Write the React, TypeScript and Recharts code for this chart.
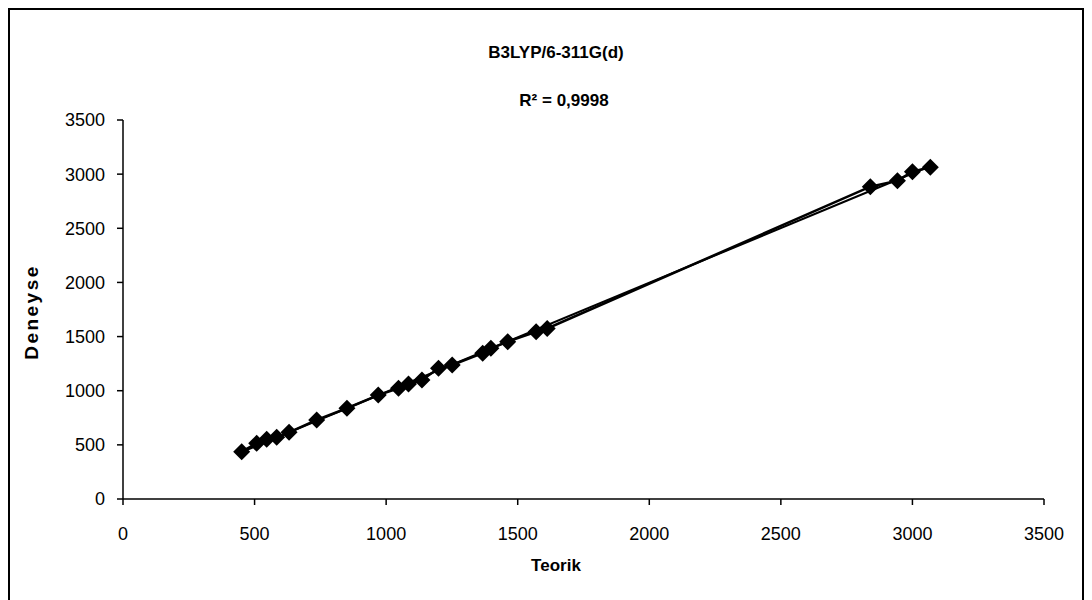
import { ScatterChart, Scatter, XAxis, YAxis } from "recharts"

const teorik = [451, 508, 546, 584, 631, 736, 851, 970, 1047, 1085, 1136, 1199, 1251, 1367, 1398, 1462, 1570, 1612, 2840, 2943, 3000, 3068]
const deneyse = [437, 514, 551, 570, 616, 730, 838, 960, 1022, 1062, 1099, 1207, 1238, 1346, 1392, 1453, 1545, 1575, 2884, 2940, 3023, 3063]
const axisTicks = [0, 500, 1000, 1500, 2000, 2500, 3000, 3500]
const title = "B3LYP/6-311G(d)"
const r2Label = "R² = 0,9998"

const points = teorik.map((x, i) => ({ x, y: deneyse[i] }))

// linear trendline (least squares), drawn from min to max x like Excel does
const n = points.length
const mx = teorik.reduce((a, b) => a + b, 0) / n
const my = deneyse.reduce((a, b) => a + b, 0) / n
let sxy = 0
let sxx = 0
points.forEach((p) => {
  sxy += (p.x - mx) * (p.y - my)
  sxx += (p.x - mx) * (p.x - mx)
})
const slope = sxy / sxx
const intercept = my - slope * mx
const xMin = Math.min(...teorik)
const xMax = Math.max(...teorik)
const trend = [
  { x: xMin, y: slope * xMin + intercept },
  { x: xMax, y: slope * xMax + intercept },
]

const font = "Arial, 'Liberation Sans', sans-serif"

const Diamond = (props: any) => {
  const { cx, cy } = props
  const s = 8.5
  return <polygon points={`${cx},${cy - s} ${cx + s},${cy} ${cx},${cy + s} ${cx - s},${cy}`} fill="#000" />
}

export default function App() {
  return (
    <div style={{ position: "relative", width: 1076, height: 600, border: "2px solid #000", boxSizing: "border-box", background: "#fff", fontFamily: font }}>
      <div style={{ position: "absolute", left: -2, top: -2 }}>
        <ScatterChart width={1076} height={600} margin={{ top: 112, right: 40, bottom: 79, left: 0 }}>
          <XAxis
            type="number"
            dataKey="x"
            domain={[0, 3500]}
            ticks={axisTicks}
            height={30}
            stroke="#000"
            strokeWidth={1.5}
            tickSize={6}
            tickMargin={22}
            tick={{ fill: "#000", fontSize: 18, fontFamily: font }}
          />
          <YAxis
            type="number"
            dataKey="y"
            domain={[0, 3500]}
            ticks={axisTicks}
            width={115}
            stroke="#000"
            strokeWidth={1.5}
            tickSize={6}
            tickMargin={12}
            tick={{ fill: "#000", fontSize: 18, fontFamily: font }}
          />
          <Scatter data={trend} line={{ stroke: "#000", strokeWidth: 2 }} shape={() => <g />} isAnimationActive={false} />
          <Scatter data={points} line={{ stroke: "#000", strokeWidth: 2.5 }} shape={Diamond} isAnimationActive={false} />
        </ScatterChart>
      </div>
      <div style={{ position: "absolute", left: 0, width: 1076, top: 33, textAlign: "center", fontWeight: "bold", fontSize: 17, paddingLeft: 8 }}>{title}</div>
      <div style={{ position: "absolute", left: 0, width: 1076, top: 81, textAlign: "center", fontWeight: "bold", fontSize: 17, paddingLeft: 16 }}>{r2Label}</div>
      <div style={{ position: "absolute", left: 0, width: 1076, top: 546, textAlign: "center", fontWeight: "bold", fontSize: 17, paddingLeft: 8 }}>Teorik</div>
      <div style={{ position: "absolute", left: 22, top: 302, transform: "translate(-50%, -50%) rotate(-90deg)", fontWeight: "bold", fontSize: 19, letterSpacing: 2.5, whiteSpace: "nowrap" }}>Deneyse</div>
    </div>
  )
}
